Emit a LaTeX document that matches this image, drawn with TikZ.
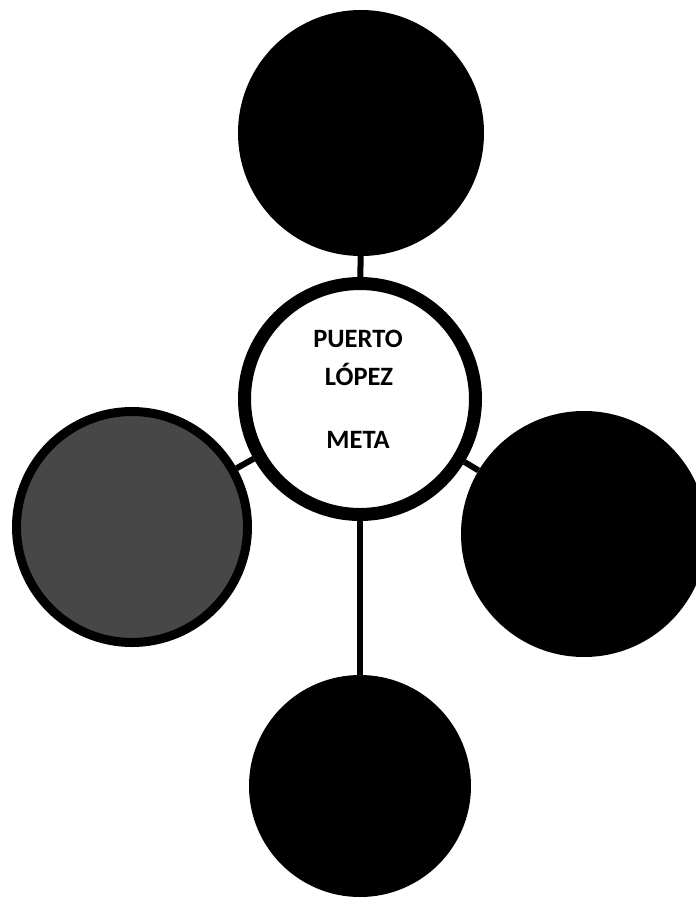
\documentclass[tikz,border=0pt]{standalone}
\usepackage{fontspec}
\setmainfont{Carlito}
\usepackage{tikz}
\usetikzlibrary{positioning,calc}
\tikzset{
  bubble/.style={circle, fill=black, inner sep=0pt},
  greybubble/.style={bubble, fill=black!72, draw=black, line width=9pt},
  hubring/.style={circle, draw=black, fill=white, line width=13pt, inner sep=0pt, minimum size=231pt},
  link/.style={draw=black, line width=6pt},
  hubtext/.style={font=\bfseries\fontsize{26.5}{30}\selectfont, inner sep=0pt, anchor=base}
}
\begin{document}
\begin{tikzpicture}[x=1pt, y=-1pt]
\useasboundingbox (0,0) rectangle (696,900);

% centre and the four outer circles
\node[hubring] (hub) at (360,399) {};
\node[bubble, minimum size=246pt] (topc) at (361,133) {};
\node[greybubble, minimum size=231pt] (leftc) at (132,527) {};
\node[bubble, minimum size=246pt] (rightc) at (584,534) {};
\node[bubble, minimum size=222pt] (botc) at (360,786) {};

\draw[link] (topc) -- (hub);
\draw[link] (leftc) -- (hub);
\draw[link] (rightc) -- (hub);
\draw[link] (botc) -- (hub);

\node[hubtext] (puerto) at (358,347) {PUERTO};
\node[hubtext] (lopez) at (359,385) {LÓPEZ};
\node[hubtext] (meta) at (358,448) {META};

\end{tikzpicture}
\end{document}
